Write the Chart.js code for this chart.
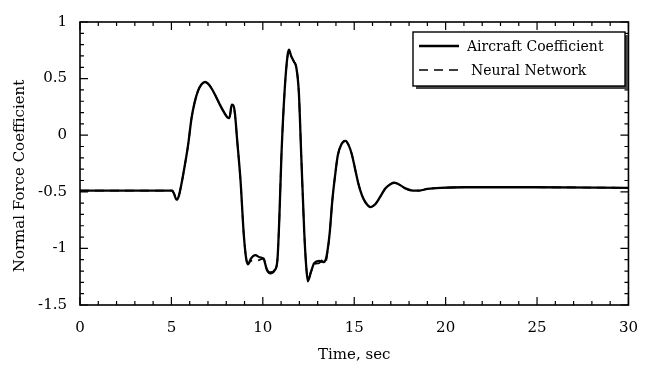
<!DOCTYPE html>
<html>
<head>
<meta charset="utf-8">
<script src="https://cdn.jsdelivr.net/npm/chart.js@4"></script>
<style>
  html, body { margin: 0; padding: 0; background: #fff; }
  #wrap { width: 652px; height: 368px; }
</style>
</head>
<body>
<div id="wrap"><canvas id="chart" width="652" height="368"></canvas></div>
<script>
// time axis (sec)
const timeSec = [
  0, 5.05, 5.15, 5.28, 5.4, 5.55, 5.75, 5.91, 6.1, 6.27,
  6.45, 6.65, 6.84, 7.0, 7.17, 7.44, 7.65, 7.85, 8.05, 8.17,
  8.3, 8.38, 8.47, 8.6, 8.78, 8.96, 9.1, 9.2, 9.35, 9.59,
  9.85, 10.04, 10.22, 10.39, 10.66, 10.8, 10.9, 11.02, 11.2, 11.35,
  11.43, 11.55, 11.7, 11.83, 11.97, 12.1, 12.27, 12.37, 12.46, 12.63,
  12.81, 13.08, 13.3, 13.44, 13.53, 13.66, 13.8, 13.95, 14.1, 14.3,
  14.52, 14.7, 14.87, 15.05, 15.23, 15.42, 15.6, 15.9, 16.15, 16.4,
  16.7, 17.0, 17.2, 17.5, 17.8, 18.2, 18.5, 19.0, 19.7, 21,
  25, 30
];
const aircraftCoeff = [
  -0.49, -0.49, -0.52, -0.57, -0.54, -0.43, -0.25, -0.09, 0.15, 0.29,
  0.39, 0.45, 0.47, 0.455, 0.42, 0.34, 0.27, 0.21, 0.16, 0.15,
  0.27, 0.265, 0.2, -0.05, -0.40, -0.88, -1.10, -1.14, -1.09, -1.06,
  -1.08, -1.09, -1.19, -1.22, -1.19, -1.10, -0.75, -0.17, 0.41, 0.70,
  0.755, 0.70, 0.65, 0.60, 0.38, -0.17, -0.87, -1.15, -1.29, -1.21,
  -1.13, -1.11, -1.12, -1.10, -1.03, -0.86, -0.58, -0.36, -0.18, -0.08,
  -0.05, -0.09, -0.17, -0.30, -0.43, -0.53, -0.59, -0.635, -0.61, -0.55,
  -0.47, -0.43, -0.42, -0.44, -0.47, -0.49, -0.49, -0.475, -0.465, -0.46,
  -0.46, -0.465
];
const networkCoeff = [
  -0.49, -0.49, -0.52, -0.56, -0.54, -0.43, -0.25, -0.09, 0.15, 0.29,
  0.39, 0.45, 0.47, 0.455, 0.42, 0.34, 0.27, 0.21, 0.16, 0.15,
  0.25, 0.25, 0.19, -0.05, -0.40, -0.88, -1.10, -1.13, -1.11, -1.11,
  -1.10, -1.09, -1.18, -1.21, -1.19, -1.10, -0.75, -0.17, 0.41, 0.69,
  0.74, 0.70, 0.65, 0.60, 0.38, -0.17, -0.87, -1.15, -1.28, -1.21,
  -1.14, -1.13, -1.10, -1.12, -1.04, -0.86, -0.58, -0.36, -0.18, -0.08,
  -0.05, -0.09, -0.17, -0.30, -0.43, -0.53, -0.59, -0.635, -0.61, -0.55,
  -0.47, -0.43, -0.42, -0.44, -0.47, -0.49, -0.49, -0.475, -0.465, -0.46,
  -0.46, -0.465
];
const xTicks = [0, 5, 10, 15, 20, 25, 30];
const yTicks = [-1.5, -1, -0.5, 0, 0.5, 1];
const seriesNames = ['Aircraft Coefficient', 'Neural Network'];

const serif = "'DejaVu Serif', 'Liberation Serif', serif";

// frame, inward ticks, legend box and y title
const framePlugin = {
  id: 'frame',
  afterDraw(chart) {
    const ctx = chart.ctx;
    const a = chart.chartArea;
    const xs = chart.scales.x, ys = chart.scales.y;
    ctx.save();
    ctx.strokeStyle = '#000';
    ctx.lineWidth = 1.6;
    ctx.strokeRect(a.left, a.top, a.right - a.left, a.bottom - a.top);

    ctx.lineWidth = 1.2;
    ctx.beginPath();
    for (let t = 0; t <= 30; t++) {
      const px = xs.getPixelForValue(t);
      const len = (t % 5 === 0) ? 8 : 4;
      ctx.moveTo(px, a.bottom); ctx.lineTo(px, a.bottom - len);
      ctx.moveTo(px, a.top); ctx.lineTo(px, a.top + len);
    }
    for (let i = -15; i <= 10; i++) {
      const py = ys.getPixelForValue(i / 10);
      const len = (i % 5 === 0) ? 8 : 4;
      ctx.moveTo(a.left, py); ctx.lineTo(a.left + len, py);
      ctx.moveTo(a.right, py); ctx.lineTo(a.right - len, py);
    }
    ctx.stroke();

    // y axis title
    ctx.fillStyle = '#000';
    ctx.font = '15px ' + serif;
    ctx.textAlign = 'center';
    ctx.textBaseline = 'middle';
    ctx.save();
    ctx.translate(20, 176);
    ctx.rotate(-Math.PI / 2);
    ctx.fillText('Normal Force Coefficient', 0, 0);
    ctx.restore();

    // legend box with shadow
    const bx = 413, by = 32, bw = 212, bh = 54;
    ctx.fillStyle = '#444';
    ctx.fillRect(bx + 3, by + 3, bw, bh);
    ctx.fillStyle = '#fff';
    ctx.fillRect(bx, by, bw, bh);
    ctx.lineWidth = 1.4;
    ctx.strokeRect(bx, by, bw, bh);

    const sets = chart.data.datasets;
    ctx.textAlign = 'left';
    ctx.font = '14px ' + serif;
    ctx.fillStyle = '#000';
    [46, 70].forEach((ly, i) => {
      ctx.beginPath();
      ctx.lineWidth = sets[i].borderWidth;
      ctx.setLineDash(sets[i].borderDash || []);
      ctx.moveTo(419, ly); ctx.lineTo(459, ly);
      ctx.stroke();
      ctx.setLineDash([]);
      ctx.fillText(sets[i].label, i === 0 ? 467 : 471, ly + 1);
    });
    ctx.restore();
  }
};

const toPoints = ys => timeSec.map((t, i) => ({ x: t, y: ys[i] }));

new Chart(document.getElementById('chart'), {
  type: 'line',
  data: {
    datasets: [
      {
        label: seriesNames[0],
        data: toPoints(aircraftCoeff),
        borderColor: '#000',
        borderWidth: 2.3,
        pointRadius: 0,
        cubicInterpolationMode: 'monotone',
        order: 1
      },
      {
        label: seriesNames[1],
        data: toPoints(networkCoeff),
        borderColor: '#000',
        borderWidth: 1.7,
        borderDash: [9, 6],
        pointRadius: 0,
        cubicInterpolationMode: 'monotone',
        order: 2
      }
    ]
  },
  options: {
    responsive: false,
    animation: false,
    events: [],
    layout: { padding: { top: 15, right: 14, left: 0, bottom: 0 } },
    plugins: { legend: { display: false }, tooltip: { enabled: false } },
    scales: {
      x: {
        type: 'linear',
        min: 0, max: 30,
        grid: { display: false, drawTicks: false },
        border: { display: false },
        afterBuildTicks: s => { s.ticks = xTicks.map(v => ({ value: v })); },
        afterFit: s => { s.height = 63; },
        ticks: { color: '#000', padding: 14, maxRotation: 0, font: { family: serif, size: 15 } },
        title: { display: true, text: 'Time, sec', color: '#000', padding: { top: 4 }, font: { family: serif, size: 15 } }
      },
      y: {
        min: -1.5, max: 1,
        grid: { display: false, drawTicks: false },
        border: { display: false },
        afterBuildTicks: s => { s.ticks = yTicks.map(v => ({ value: v })); },
        afterFit: s => { s.width = 80; },
        ticks: {
          color: '#000', padding: 13, font: { family: serif, size: 15 },
          callback: v => String(v)
        }
      }
    }
  },
  plugins: [framePlugin]
});
</script>
</body>
</html>
